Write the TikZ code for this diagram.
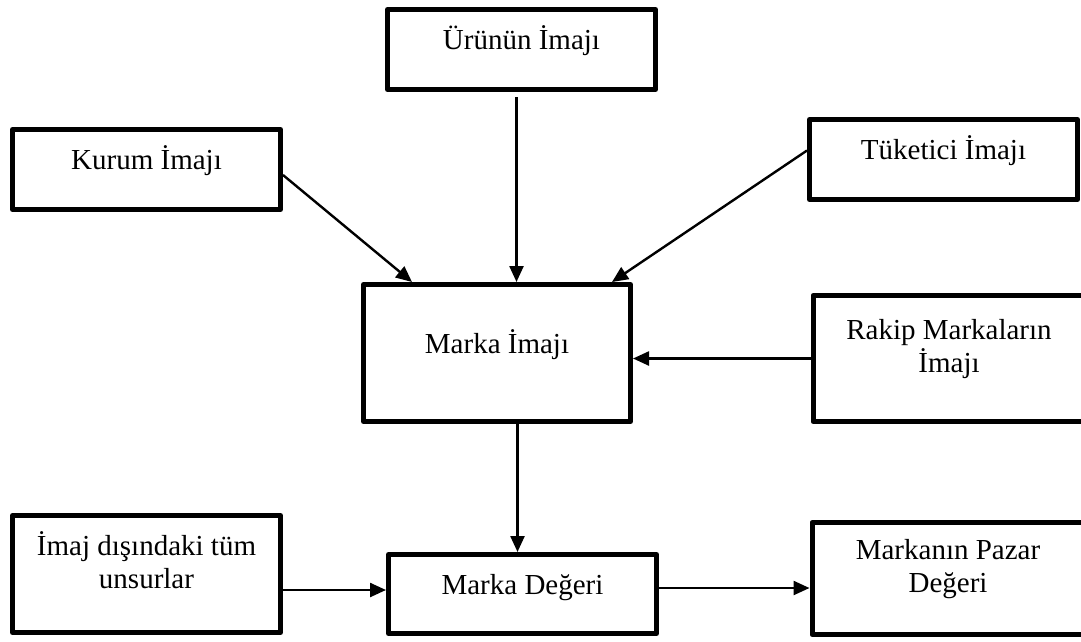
\documentclass[tikz,border=0pt]{standalone}
\usepackage{fontspec}
\setmainfont{Liberation Serif}
\usetikzlibrary{arrows.meta}

\begin{document}
\begin{tikzpicture}
[x=1pt, y=-1pt,
    imgbox/.style={draw, line width=5pt, line join=round, fill=white, align=center,
        font=\fontsize{29}{33}\selectfont, text height=24pt, text depth=24pt,
        inner sep=0pt, minimum width=268pt},
    twoline/.style={text height=57pt, text depth=29pt},
    link/.style={line width=2.4pt, -{Triangle[length=16pt,width=14pt]}}]
    \useasboundingbox (0,0) rectangle (1081,641);
    \node[imgbox, minimum height=80pt] (urun) at (521.5,49.5) {Ürünün İmajı};
    \node[imgbox, minimum height=80pt] (kurum) at (146.5,169.5) {Kurum İmajı};
    \node[imgbox, minimum height=80pt] (tuketici) at (943.5,159.5) {Tüketici İmajı};
    \node[imgbox, minimum height=137pt, minimum width=267pt] (marka) at (497,353) {Marka İmajı};
    \node[imgbox, twoline, minimum height=126pt, minimum width=272pt] (rakip) at (949,358.5) {Rakip Markaların\\İmajı};
    \node[imgbox, twoline, minimum height=117pt] (imajdisi) at (146.5,574) {İmaj dışındaki tüm\\unsurlar};
    \node[imgbox, minimum height=79pt] (deger) at (522.5,594) {Marka Değeri};
    \node[imgbox, twoline, minimum height=112pt, minimum width=272pt] (pazar) at (948,578.5) {Markanın Pazar\\Değeri};
    \draw[link] ([xshift=-5pt,yshift=-5pt]urun.south) -- ([xshift=-5pt]urun.south |- marka.north);
    \draw[link] ([yshift=-5.5pt]kurum.east) -- ([xshift=51pt]marka.north west);
    \draw[link] ([yshift=9pt]tuketici.west) -- ([xshift=-21pt]marka.north east);
    \draw[link] (rakip.west) -- (rakip.west -| marka.east);
    \draw[link] ([xshift=-5pt]deger.north |- marka.south) -- ([xshift=-5pt]deger.north);
    \draw[link] ([yshift=-16pt]imajdisi.east) -- ([yshift=-16pt]imajdisi.east -| deger.west);
    \draw[link] ([yshift=6pt]deger.east) -- ([yshift=6pt]deger.east -| pazar.west);
\end{tikzpicture}
\end{document}
